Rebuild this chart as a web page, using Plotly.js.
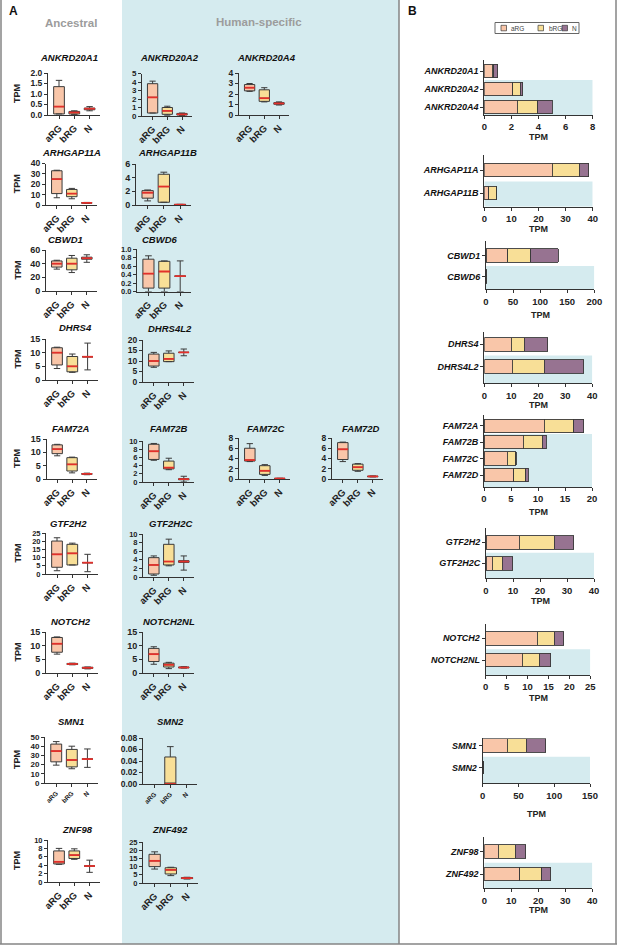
<!DOCTYPE html>
<html><head><meta charset="utf-8">
<script src="https://cdn.plot.ly/plotly-3.0.1.min.js"></script>
<style>html,body{margin:0;padding:0;background:#fff}#chart{width:617px;height:947px}</style>
</head><body><div id="chart"></div>
<script>
// ================= DATA =================
// Panel A: box plots (TPM), per gene [aRG, bRG, N]
const cellTypes = ['aRG', 'bRG', 'N'];
const genesA = ['ANKRD20A1','ANKRD20A2','ANKRD20A4','ARHGAP11A','ARHGAP11B','CBWD1','CBWD6','DHRS4','DHRS4L2',
  'FAM72A','FAM72B','FAM72C','FAM72D','GTF2H2','GTF2H2C','NOTCH2','NOTCH2NL','SMN1','SMN2','ZNF98','ZNF492'];
const lowA = [[0.05,0.03,0.2],[0.35,0.1,0.05],[2.25,1.25,0.95],[7,6,1.5],[0.6,0.4,0],[32,27,42],[0,0,0],[4.2,2.8,3.7],[7,9.7,12.5],
  [8.7,2.3,1.6],[5.3,3.0,0],[3.4,0.7,0.05],[3.4,1.5,0.4],[2,5.5,1.4],[0.4,2.6,1.6],[6.9,3.0,1.5],[3.2,1.6,1.8],[19.4,15.5,17],[null,0,null],[4.2,5.4,2.3],[8.5,4.5,2.4]];
const q1A = [[0.05,0.05,0.25],[0.35,0.2,0.12],[2.3,1.3,1.02],[11,8,1.8],[1.0,0.4,0.02],[35,31,46.5],[0.08,0.08,0.36],[5.5,3,8.5],[7.6,9.7,14.1],
  [9.5,3,1.75],[5.5,3.2,0.55],[3.5,0.9,0.08],[3.8,1.7,0.45],[4.1,5.5,6.9],[0.7,2.8,3.4],[7.6,3.1,1.7],[4.2,2.2,1.9],[23,17.5,26],[null,0,null],[4.3,5.6,3.8],[10,5.5,2.7]];
const medA = [[0.4,0.12,0.3],[2.2,0.6,0.2],[2.6,1.6,1.1],[25,11,2],[1.8,2.7,0.05],[40,40,48],[0.42,0.47,0.36],[10,5,8.5],[10,11,14.1],
  [11.2,5.5,1.9],[7.5,3.5,0.7],[3.7,1.6,0.1],[5.8,2.3,0.5],[12,12.6,6.9],[2.8,3.6,3.6],[10.7,3.3,1.9],[6.9,3.0,2.0],[34.7,25,26],[null,0,null],[4.8,6.4,3.8],[13.5,8,3]];
const q3A = [[1.35,0.17,0.33],[3.8,1.0,0.3],[2.9,2.4,1.18],[33,15,2.2],[2.1,4.5,0.08],[44,48,49.5],[0.76,0.71,0.36],[11.8,8.6,8.5],[13.3,13.7,14.1],
  [12.8,8,2.05],[9.2,5.1,0.8],[6,2.6,0.12],[7.1,2.9,0.55],[20.1,18.1,6.9],[4.5,7.6,3.8],[13,3.5,2.1],[9.0,3.6,2.2],[42.3,36.5,26],[null,0.047,null],[7.4,7.4,3.8],[17.5,9.3,3.3]];
const highA = [[1.65,0.2,0.4],[4.1,1.15,0.35],[3.0,2.6,1.25],[33.5,16,2.5],[2.2,4.8,0.1],[45,52,53],[0.84,0.72,0.72],[12,9.5,13.5],[14.1,14.8,15.7],
  [13,8.2,2.2],[9.4,5.8,1.4],[6.9,2.8,0.15],[7.2,3.0,0.6],[22.1,18.8,12],[4.9,8.8,4.9],[13.2,3.6,2.2],[9.6,3.9,2.3],[45,40,37],[null,0.065,null],[8.0,7.9,5.2],[19,9.6,3.5]];

// Panel B: stacked mean TPM bars
const genesB = [['ANKRD20A1','ANKRD20A2','ANKRD20A4'],['ARHGAP11A','ARHGAP11B'],['CBWD1','CBWD6'],['DHRS4','DHRS4L2'],
  ['FAM72A','FAM72B','FAM72C','FAM72D'],['GTF2H2','GTF2H2C'],['NOTCH2','NOTCH2NL'],['SMN1','SMN2'],['ZNF98','ZNF492']];
const humanStartB = [1,1,1,1,1,1,1,1,1];
const barARG = [[0.58,2.1,2.45],[25,1.6],[40,0.4],[9.9,10.4],[11.2,7.3,4.3,5.5],[12.3,2.4],[12.3,8.7],[34.4,0.5],[5.2,13.2]];
const barBRG = [[0.1,0.55,1.5],[10,2.8],[43,0.4],[4.9,11.8],[5.4,3.5,1.6,2.2],[13,3.6],[4.1,4.1],[26.2,0.3],[6.2,8.1]];
const barN   = [[0.32,0.2,1.05],[3.5,0.1],[50,0.3],[8.7,14.6],[1.9,0.7,0.1,0.5],[7.2,3.9],[2.2,2.7],[27.5,0.2],[3.9,3.3]];

// ================= LAYOUT SPECS (positions in px) =================
const W = 617, H = 947;
const FONT = 'Liberation Sans, Arial, sans-serif';
const specA = [
  {x0:48,x1:100,yt:73,yz:115,max:2,dt:0.5,fmt:'.1f',tx:68.5,ty:57,yfs:8.5},
  {x0:142,x1:192,yt:73.5,yz:116,max:5,dt:1,tx:169,ty:57,yfs:8},
  {x0:239,x1:289,yt:73,yz:115,max:4,dt:1,tx:266,ty:57,yfs:8.5},
  {x0:46,x1:97,yt:163.5,yz:205,max:40,dt:10,tx:71,ty:152,yfs:8.5},
  {x0:136,x1:191,yt:164,yz:205,max:6,dt:2,tx:168,ty:152,yfs:9},
  {x0:46,x1:97,yt:250,yz:291,max:60,dt:20,tx:65,ty:239,yfs:9},
  {x0:137,x1:191,yt:249,yz:291.5,max:1,dt:0.2,fmt:'.1f',tx:160,ty:239,yfs:7.5},
  {x0:46,x1:98,yt:339,yz:380,max:15,dt:5,tx:75.5,ty:327,yfs:9},
  {x0:143,x1:194,yt:340,yz:382,max:20,dt:5,tx:169.5,ty:328,yfs:8.5},
  {x0:46.5,x1:97,yt:439,yz:479,max:15,dt:5,tx:71,ty:428,yfs:9},
  {x0:143,x1:194,yt:441,yz:482,max:10,dt:2,tx:169,ty:428,yfs:7.5},
  {x0:239,x1:290,yt:438,yz:479,max:8,dt:2,tx:266,ty:428,yfs:8.5},
  {x0:332,x1:383,yt:438,yz:479,max:8,dt:2,tx:361,ty:428,yfs:8.5},
  {x0:46,x1:98,yt:533,yz:574,max:25,dt:5,tx:68.5,ty:523,yfs:7.5},
  {x0:143,x1:194,yt:534,yz:577,max:10,dt:2,tx:170,ty:523,yfs:7.5},
  {x0:46,x1:98,yt:632,yz:673,max:15,dt:5,tx:70.5,ty:621,yfs:9},
  {x0:143,x1:194,yt:632,yz:673,max:15,dt:5,tx:168.5,ty:621,yfs:9},
  {x0:45,x1:98,yt:737,yz:783,max:50,dt:10,tx:70.5,ty:721,tfs:6.5,yfs:8},
  {x0:143,x1:197,yt:738,yz:784,max:0.08,dt:0.02,fmt:'.2f',tx:170.5,ty:721,tfs:6.5,yfs:8.5},
  {x0:48,x1:100,yt:840,yz:882,max:10,dt:2,tx:78,ty:829,yfs:7.5},
  {x0:143,x1:198,yt:842,yz:883,max:25,dt:5,tx:169.5,ty:829,yfs:7.5}
];
const tpmColA = [0,3,5,7,9,13,15,17,19];
const specB = [
  {x0:484.3,x1:592.7,top:60,r0:71,step:18,bot:115,max:8,dt:2,tpm:137},
  {x0:484.3,x1:592.7,top:155,r0:170,step:23,bot:206.7,max:40,dt:10,tpm:229},
  {x0:486,x1:594.3,top:241,r0:255.5,step:21,bot:289.3,max:200,dt:50,tpm:315},
  {x0:484.3,x1:592.3,top:331.7,r0:344.3,step:22.4,bot:383.3,max:40,dt:10,tpm:404},
  {x0:484,x1:592,top:415,r0:425.8,step:16.4,bot:487,max:20,dt:5,tpm:511.7},
  {x0:486,x1:594,top:528.3,r0:542.3,step:21,bot:578.3,max:40,dt:10,tpm:601},
  {x0:485.7,x1:590.3,top:624,r0:638.3,step:21.7,bot:675,max:25,dt:5,tpm:698.3},
  {x0:482.7,x1:590,top:738.3,r0:745.7,step:22,bot:783.3,max:150,dt:50,tpm:814},
  {x0:484.3,x1:592.3,top:837.3,r0:851.7,step:22.3,bot:888.3,max:40,dt:10,tpm:910}
];
const COL = {aRG:'#f9c6a9', bRG:'#f8df97', N:'#977391', boxN:'#e8c6d4', blue:'#d5ebef', med:'#e3302b', edge:'#3a3a3a'};
const boxFill = [COL.aRG, COL.bRG, COL.boxN];
const barColors = [COL.aRG, COL.bRG, COL.N];

// ================= BUILD =================
const px = x => x / W, py = y => 1 - y / H;
const data = [], annotations = [], shapes = [];
const layout = {width:W, height:H, margin:{l:0,r:0,t:0,b:0}, paper_bgcolor:'#fff', plot_bgcolor:'rgba(0,0,0,0)',
  showlegend:false, barmode:'stack', font:{family:FONT, color:'#222'}, annotations, shapes};
function axBase(size){
  return {showline:true, linecolor:'#333', linewidth:1, ticks:'outside', ticklen:3, tickwidth:1, tickcolor:'#333',
    showgrid:false, zeroline:false, fixedrange:true, tickfont:{family:FONT, size:size||9.5, weight:'bold', color:'#222'}};
}
const sid = k => (k === 1 ? '' : String(k));
function label(text, x, y, font, extra){
  annotations.push(Object.assign({text, xref:'paper', yref:'paper', x:px(x), y:py(y), showarrow:false,
    xanchor:'center', yanchor:'middle', font:Object.assign({family:FONT}, font)}, extra || {}));
}

// Background frames
shapes.push({type:'rect', xref:'paper', yref:'paper', x0:px(122), x1:px(399), y0:py(944), y1:1, fillcolor:COL.blue, line:{width:0}, layer:'below'});
[[1,0,1,944],[399,0,399,944],[616,0,616,944],[0,944,617,944]].forEach(l => shapes.push({type:'line', xref:'paper', yref:'paper',
  x0:px(l[0]), x1:px(l[2]), y0:py(l[1]), y1:py(l[3]), line:{color:'#858585', width:1.5}}));

// Panel A
genesA.forEach((g, i) => {
  const s = specA[i], k = i + 1, id = sid(k);
  const xa = Object.assign(axBase(s.tfs || 9.5), {domain:[px(s.x0), px(s.x1)], range:[-0.72, 2.68], tickmode:'array',
    tickvals:[0,1,2], ticktext:cellTypes, tickangle:-45, anchor:'y'+id});
  const ya = Object.assign(axBase(s.yfs), {domain:[py(s.yz), py(s.yt)], range:[0, s.max], tick0:0, dtick:s.dt, anchor:'x'+id});
  if (s.fmt) ya.tickformat = s.fmt;
  layout['xaxis'+id] = xa; layout['yaxis'+id] = ya;
  const mx = [], my = [];
  cellTypes.forEach((c, j) => {
    if (medA[i][j] === null) return;
    data.push({type:'box', x:[j], q1:[q1A[i][j]], median:[medA[i][j]], q3:[q3A[i][j]], lowerfence:[lowA[i][j]], upperfence:[highA[i][j]],
      boxpoints:false, width:0.7, whiskerwidth:0.6, fillcolor:boxFill[j], line:{color:COL.edge, width:1},
      xaxis:'x'+id, yaxis:'y'+id, hoverinfo:'skip', showlegend:false});
    mx.push(j - 0.35, j + 0.35, null); my.push(medA[i][j], medA[i][j], null);
  });
  data.push({type:'scatter', mode:'lines', x:mx, y:my, line:{color:COL.med, width:1.8}, xaxis:'x'+id, yaxis:'y'+id, hoverinfo:'skip', showlegend:false});
  label(g, s.tx, s.ty, {size:9.5, weight:'bold', style:'italic', color:'#111'});
  if (tpmColA.includes(i)) label('TPM', 17, (s.yt + s.yz) / 2, {size:9, weight:'bold', color:'#222'}, {textangle:-90});
});

// Panel B
genesB.forEach((names, gi) => {
  const s = specB[gi], k = 22 + gi, id = sid(k);
  const yLow = (s.bot - s.r0) / s.step, yHigh = (s.top - s.r0) / s.step;
  const idx = names.map((_, j) => j);
  layout['xaxis'+id] = Object.assign(axBase(9.5), {domain:[px(s.x0), px(s.x1)], range:[0, s.max], tick0:0, dtick:s.dt, anchor:'y'+id});
  const ya = Object.assign(axBase(9), {domain:[py(s.bot), py(s.top)], range:[yLow, yHigh], tickmode:'array', tickvals:idx, ticktext:names, anchor:'x'+id});
  ya.tickfont.style = 'italic'; ya.tickfont.color = '#111';
  layout['yaxis'+id] = ya;
  const bw = 13.5 / s.step;
  [barARG, barBRG, barN].forEach((arr, c) => {
    data.push({type:'bar', orientation:'h', x:arr[gi], y:idx, width:bw, marker:{color:barColors[c], line:{color:COL.edge, width:0.9}},
      xaxis:'x'+id, yaxis:'y'+id, hoverinfo:'skip', showlegend:false, name:cellTypes[c]});
  });
  shapes.push({type:'rect', xref:'x'+id, yref:'y'+id, x0:0, x1:s.max, y0:humanStartB[gi] - 0.5, y1:yLow, fillcolor:COL.blue, line:{width:0}, layer:'below'});
  label('TPM', (s.x0 + s.x1) / 2, Math.max(s.tpm, s.bot + 22), {size:9, weight:'bold', color:'#222'});
});

// Manual legend for panel B
shapes.push({type:'rect', xref:'paper', yref:'paper', x0:px(495), x1:px(579), y0:py(33.5), y1:py(22.5), fillcolor:'#fff', line:{color:'#666', width:1}});
[[501,509],[538,546.5],[562,570]].forEach((p, c) => {
  shapes.push({type:'rect', xref:'paper', yref:'paper', x0:px(p[0]), x1:px(p[0] + 5.5), y0:py(30.8), y1:py(25.3), fillcolor:barColors[c], line:{color:COL.edge, width:0.7}});
  label(cellTypes[c], p[1], 28, {size:6.5, color:'#444'}, {xanchor:'left'});
});

// Headers / panel letters
label('Ancestral', 71, 23, {size:11.5, weight:'bold', color:'#9c9c9c'});
label('Human-specific', 259, 22, {size:11.5, weight:'bold', color:'#9c9c9c'});
label('A', 13, 11, {size:12, weight:'bold', color:'#111'});
label('B', 412, 11, {size:12, weight:'bold', color:'#111'});

Plotly.newPlot('chart', data, layout, {staticPlot:true, displayModeBar:false});
</script>
</body></html>
